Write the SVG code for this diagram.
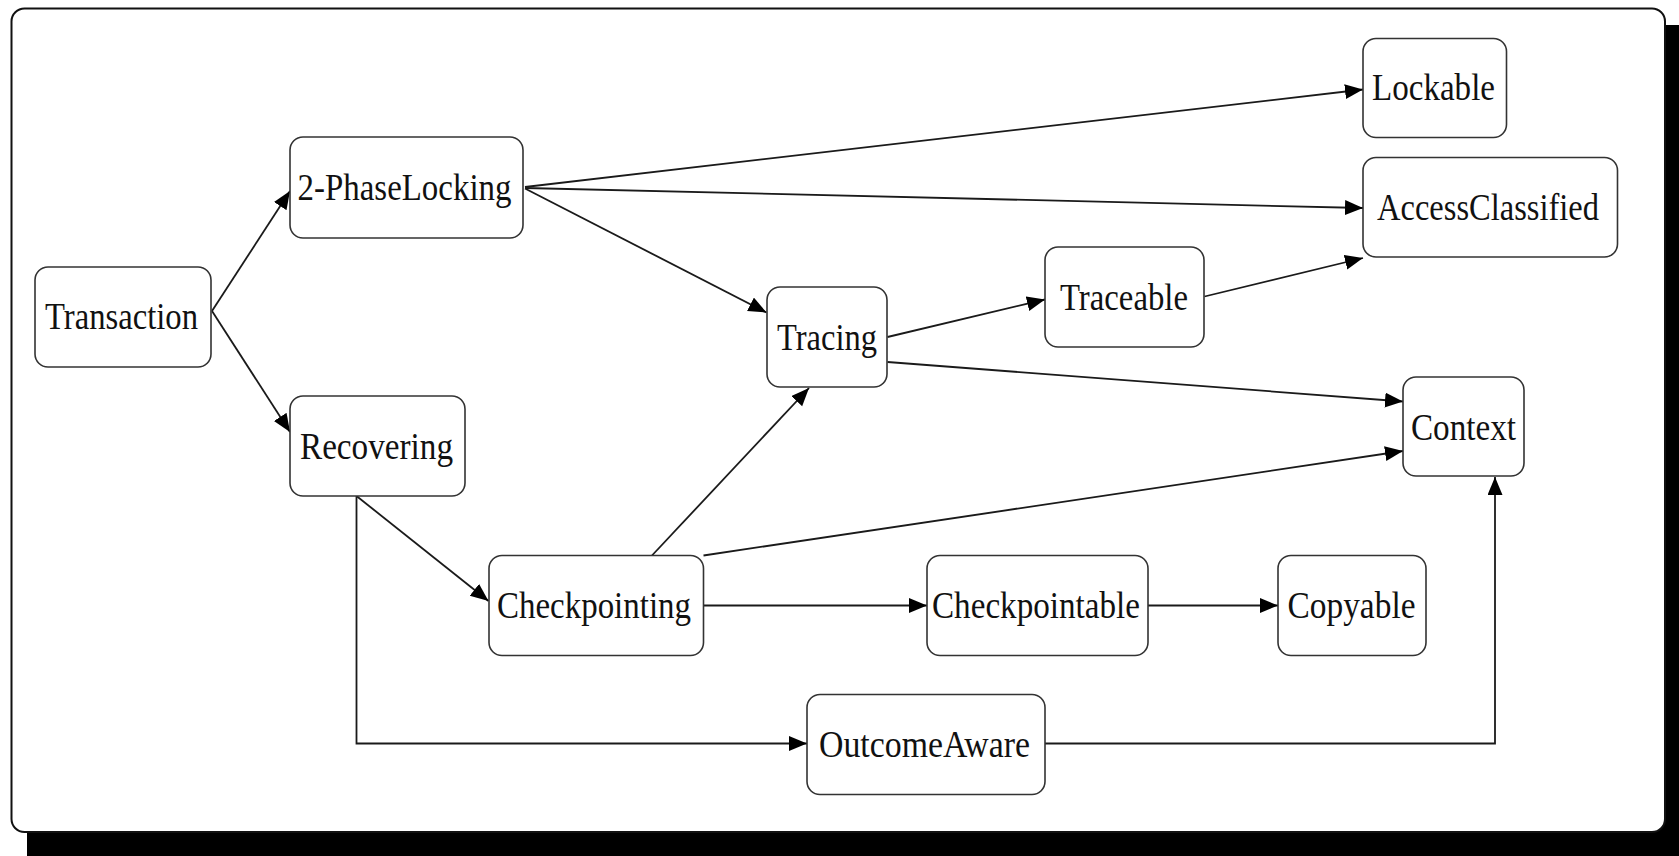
<svg xmlns="http://www.w3.org/2000/svg" width="1679" height="856" viewBox="0 0 1679 856">
<style>
.node rect{fill:#fff;stroke:#333;stroke-width:1.6}
.node text{font-family:'Liberation Serif','DejaVu Serif',serif;font-size:37px;fill:#111;text-anchor:middle}
.edges line,.edges polyline{stroke:#1a1a1a;stroke-width:1.8;fill:none;marker-end:url(#arr)}
</style>
<defs>
<marker id="arr" markerUnits="userSpaceOnUse" markerWidth="20" markerHeight="16" refX="18" refY="7.5" orient="auto">
<path d="M0,0 L18,7.5 L0,15 z" fill="#000"/>
</marker>
</defs>
<rect x="27" y="25" width="1670" height="850" fill="#000"/>
<rect x="11.5" y="8.5" width="1653.5" height="823.5" rx="13" fill="#fff" stroke="#111" stroke-width="2"/>
<g class="edges">
<line x1="212" y1="311" x2="290" y2="191"/>
<line x1="212" y1="311" x2="290" y2="432"/>
<line x1="525" y1="187" x2="1363" y2="89.5"/>
<line x1="525" y1="188" x2="1363" y2="208"/>
<line x1="525" y1="188.5" x2="766.5" y2="312.5"/>
<line x1="356.5" y1="496" x2="488.5" y2="601"/>
<polyline points="356.5,496 356.5,743.5 807,743.5"/>
<polyline points="1045,743.5 1495,743.5 1495,477"/>
<line x1="652" y1="555.5" x2="809" y2="388"/>
<line x1="703.5" y1="555.5" x2="1403" y2="451"/>
<line x1="703.5" y1="605.5" x2="927" y2="605.5"/>
<line x1="1148" y1="605.5" x2="1278" y2="605.5"/>
<line x1="887.5" y1="337" x2="1045" y2="299.5"/>
<line x1="887.5" y1="362" x2="1403" y2="401.5"/>
<line x1="1204.5" y1="296.5" x2="1363" y2="258"/>
</g>
<g id="Transaction" class="node"><rect x="35" y="267" width="176" height="100" rx="13"/><text x="121.5" y="329" textLength="153" lengthAdjust="spacingAndGlyphs">Transaction</text></g>
<g id="TwoPhaseLocking" class="node"><rect x="290" y="137" width="233" height="101" rx="13"/><text x="404.5" y="200" textLength="214" lengthAdjust="spacingAndGlyphs">2-PhaseLocking</text></g>
<g id="Recovering" class="node"><rect x="290" y="396" width="175" height="100" rx="13"/><text x="376.5" y="459" textLength="153" lengthAdjust="spacingAndGlyphs">Recovering</text></g>
<g id="Tracing" class="node"><rect x="767" y="287" width="120" height="100" rx="13"/><text x="827" y="350" textLength="100" lengthAdjust="spacingAndGlyphs">Tracing</text></g>
<g id="Traceable" class="node"><rect x="1045" y="247" width="159" height="100" rx="13"/><text x="1124" y="310" textLength="128" lengthAdjust="spacingAndGlyphs">Traceable</text></g>
<g id="Lockable" class="node"><rect x="1363" y="38.5" width="143.5" height="99" rx="13"/><text x="1433.5" y="99.5" textLength="123" lengthAdjust="spacingAndGlyphs">Lockable</text></g>
<g id="AccessClassified" class="node"><rect x="1363" y="157.5" width="254.5" height="99.5" rx="13"/><text x="1488" y="220" textLength="222" lengthAdjust="spacingAndGlyphs">AccessClassified</text></g>
<g id="Context" class="node"><rect x="1403" y="377" width="121" height="99" rx="13"/><text x="1463.5" y="440" textLength="105" lengthAdjust="spacingAndGlyphs">Context</text></g>
<g id="Checkpointing" class="node"><rect x="489" y="555.5" width="214.5" height="100" rx="13"/><text x="594" y="618" textLength="194" lengthAdjust="spacingAndGlyphs">Checkpointing</text></g>
<g id="Checkpointable" class="node"><rect x="927" y="555.5" width="221" height="100" rx="13"/><text x="1036" y="618" textLength="208" lengthAdjust="spacingAndGlyphs">Checkpointable</text></g>
<g id="Copyable" class="node"><rect x="1278" y="555.5" width="148" height="100" rx="13"/><text x="1351.5" y="618" textLength="128" lengthAdjust="spacingAndGlyphs">Copyable</text></g>
<g id="OutcomeAware" class="node"><rect x="807" y="694.5" width="238" height="100" rx="13"/><text x="924.5" y="757" textLength="211" lengthAdjust="spacingAndGlyphs">OutcomeAware</text></g>
</svg>
